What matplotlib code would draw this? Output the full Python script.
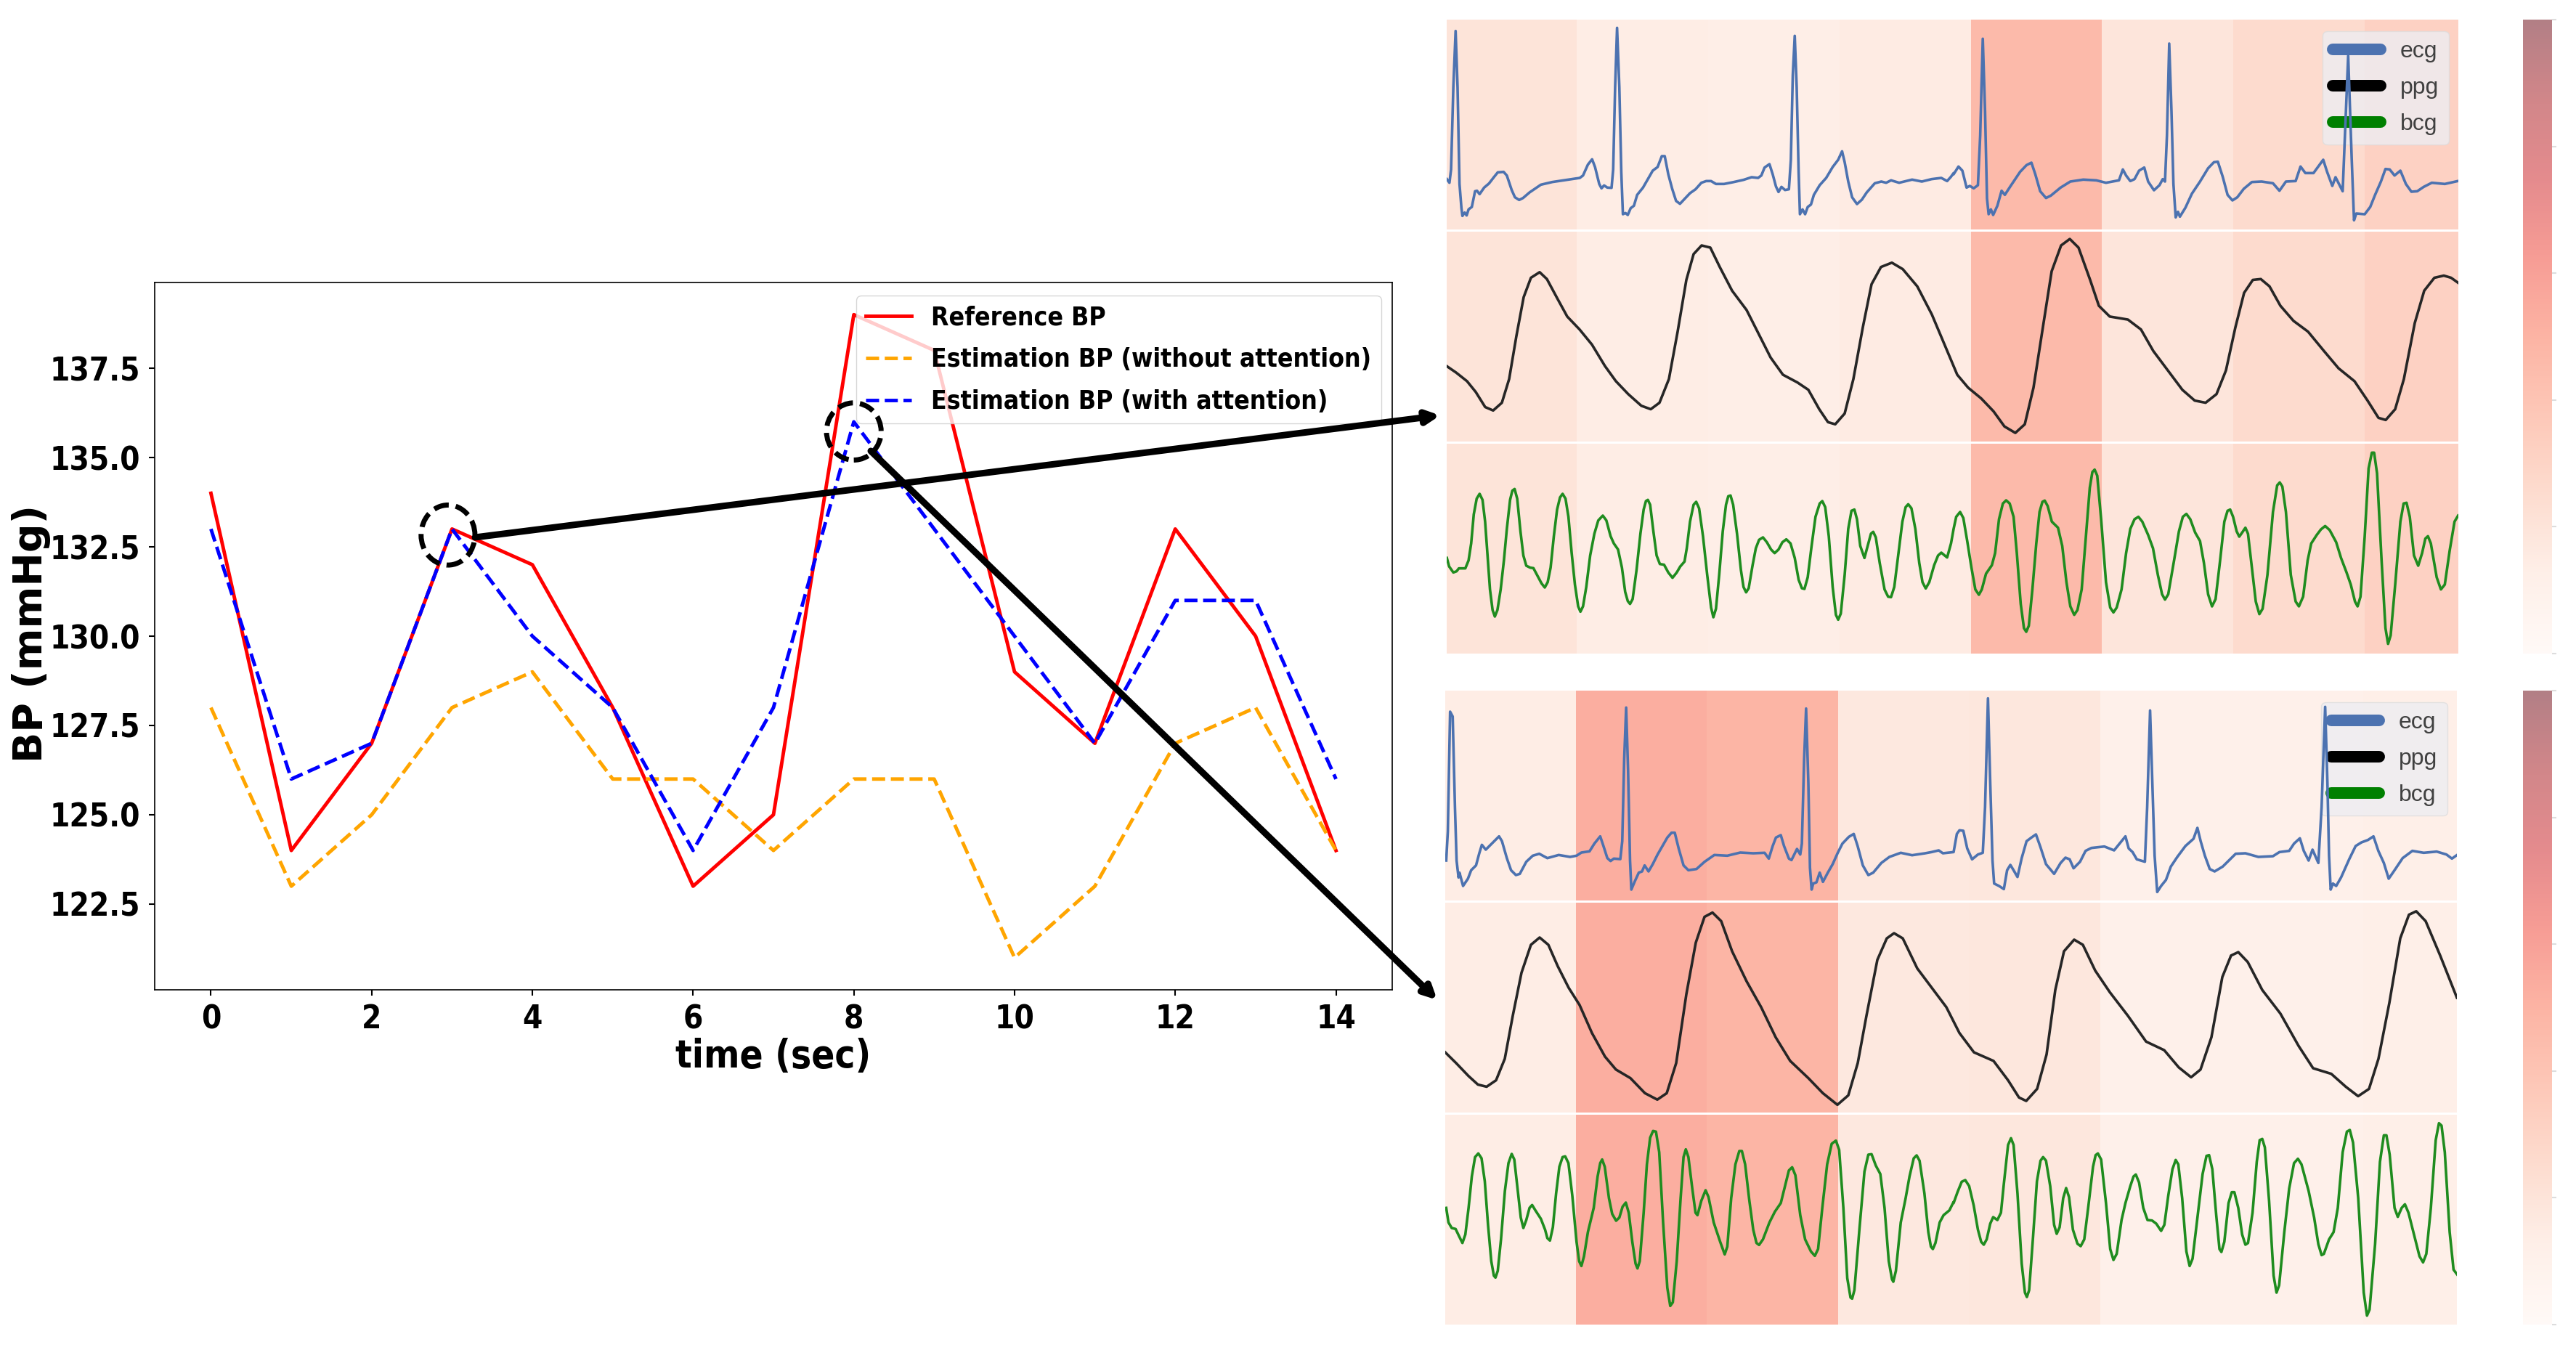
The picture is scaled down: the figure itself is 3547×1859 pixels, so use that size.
""" BP estimation chart with attention maps """
import numpy as np
import matplotlib
matplotlib.use('Agg')
import matplotlib.pyplot as plt
from matplotlib.cm import ScalarMappable
from matplotlib.colors import Normalize
from matplotlib.legend_handler import HandlerLine2D
from matplotlib.lines import Line2D
from matplotlib.patches import Ellipse

W, H = 3548, 1859

time_sec = list(range(15))
reference_bp = [134, 124, 127, 133, 132, 128, 123, 125, 139, 138, 129, 127, 133, 130, 124]
without_attention = [128, 123, 125, 128, 129, 126, 126, 124, 126, 126, 121, 123, 127, 128, 124]
with_attention = [133, 126, 127, 133, 130, 128, 124, 128, 136, 133, 130, 127, 131, 131, 126]

# attention weight per block
attn_top = [0.20, 0.14, 0.13, 0.15, 0.46, 0.19, 0.26, 0.32]
attn_bottom = [0.14, 0.53, 0.49, 0.17, 0.18, 0.11, 0.11, 0.125]
edges_top = [1992, 2171, 2352, 2533, 2714, 2894, 3075, 3256, 3385]
edges_bottom = [1990, 2170, 2350, 2531, 2711, 2892, 3073, 3254, 3383]

# traces: (sample, level)
ecg_top_a = [(5,680),(13,695),(18,640),(25,300),(32,68),(38,300),(44,700),(50,800),(53,832),(60,818),(66,830),(72,805),(82,795),(92,730),(98,728),(106,742),(120,715),(135,698),(150,672),(162,652),(180,650),(190,665),(205,725),(215,755),(228,766),(240,758),(260,735),(285,712),(295,703),(330,692),(370,684),(415,675),(425,665),(440,620),(453,598),(462,630),(475,700),(482,718),(490,706),(500,715),(513,716),(518,640),(524,300),(530,55),(537,300),(543,650),(548,825),(556,820),(563,828),(572,800),(582,790),(592,745),(610,715),(625,680),(640,645),(655,630),(668,585),(677,585),(688,660),(700,720),(712,770),(724,782),(738,762),(755,738),(772,722),(790,695),(805,688),(820,688),(835,700),(860,700),(890,692),(920,683),(945,672),(965,675),(975,665),(985,632),(1000,618),(1010,660),(1020,710),(1028,733),(1037,712),(1048,725),(1060,722),(1066,600),(1072,250),(1078,88),(1084,300),(1090,650),(1094,825),(1102,805),(1110,825),(1118,795),(1128,785),(1137,745),(1155,705),(1175,675),(1195,630),(1212,600),(1224,565),(1232,610),(1243,690),(1255,755),(1270,783),(1285,765),(1300,735),(1325,697),(1345,690),(1360,695),(1375,685),(1400,695),(1440,682),(1470,690),(1500,680),(1530,675),(1548,688),(1560,670),(1568,655)]
ecg_top_b = [(0,660),(15,628),(27,645),(40,715),(50,708),(62,718),(75,705),(82,500),(90,100),(97,400),(103,760),(108,825),(115,805),(122,828),(135,790),(148,728),(158,745),(175,710),(190,680),(205,650),(225,622),(240,612),(252,660),(267,730),(285,758),(300,748),(330,715),(360,690),(400,682),(440,685),(470,695),(510,685),(522,640),(532,665),(545,688),(558,680),(572,645),(588,632),(600,690),(618,726),(635,705),(645,680),(652,690),(658,500),(665,120),(672,400),(678,700),(685,838),(692,815),(698,835),(715,798),(735,740),(760,690),(785,635),(803,610),(815,608),(830,670),(845,745),(860,768),(875,755),(895,720),(920,692),(950,690),(985,697),(1005,728),(1025,690),(1055,688),(1070,628),(1085,655),(1110,655),(1140,600),(1152,650),(1168,708),(1178,672),(1200,730),(1207,500),(1217,170),(1228,600),(1235,850),(1242,822),(1268,825),(1285,795),(1300,745),(1318,690),(1332,638),(1345,640),(1360,665),(1378,645),(1395,700),(1412,732),(1430,730),(1450,712),(1475,695),(1515,700),(1555,688)]
ppg_top = [(12,850),(25,865),(40,885),(52,910),(65,945),(76,953),(88,935),(98,880),(108,780),(118,690),(128,645),(140,632),(150,648),(165,695),(178,735),(195,765),(212,800),(230,850),(245,885),(262,915),(280,942),(293,950),(305,935),(318,880),(330,770),(342,650),(352,590),(363,570),(375,575),(388,620),(405,675),(425,720),(440,770),(458,830),(475,870),(495,888),(510,905),(525,950),(537,980),(547,985),(560,960),(572,880),(585,760),(597,660),(610,620),(625,610),(640,625),(660,665),(680,730),(700,810),(715,870),(730,900),(748,925),(765,955),(780,990),(795,1005),(808,985),(820,900),(832,770),(845,630),(858,570),(870,555),(882,575),(898,650),(910,710),(925,735),(950,742),(968,765),(985,815),(1005,860),(1025,905),(1042,930),(1057,935),(1072,915),(1085,860),(1098,760),(1110,680),(1122,650),(1133,648),(1145,665),(1160,710),(1178,745),(1198,770),(1220,815),(1240,855),(1262,885),(1280,930),(1295,970),(1305,975),(1318,950),(1330,880),(1345,750),(1358,675),(1372,645),(1385,640),(1395,645),(1405,657)]
bcg_top_a = [(5,490),(12,525),(25,550),(35,545),(42,533),(62,533),(72,500),(80,430),(88,310),(97,245),(106,225),(115,250),(123,340),(130,470),(138,620),(146,705),(153,732),(161,705),(171,620),(181,500),(190,370),(200,250),(207,212),(214,205),(222,245),(232,380),(241,480),(250,522),(262,530),(272,532),(285,565),(297,595),(307,612),(316,590),(325,530),(335,400),(345,290),(354,240),(362,225),(371,245),(380,320),(390,470),(400,600),(410,690),(417,712),(425,690),(435,610),(447,480),(460,390),(472,335),(486,315),(497,335),(510,400),(520,430),(533,455),(545,530),(555,630),(563,668),(570,680),(578,660),(590,540),(602,390),(612,290),(619,255),(625,250),(632,270),(642,380),(652,480),(662,515),(675,518),(688,550),(701,572),(714,550),(725,525),(738,505),(745,450),(755,340),(766,270),(774,258),(783,285),(795,400),(808,560),(820,695),(827,735),(835,700),(845,560),(856,380),(866,270),(873,235),(880,232),(888,270),(900,390),(912,540),(920,610),(928,632),(936,615),(948,520),(958,450),(968,415),(980,405),(992,425),(1005,455),(1016,470),(1028,455),(1040,425),(1052,413),(1065,430),(1078,490),(1090,580),(1100,615),(1108,618),(1118,570),(1130,440),(1142,320),(1155,265),(1163,255),(1172,280),(1183,400),(1195,610),(1205,725),(1212,745),(1220,720),(1232,560),(1243,370),(1253,295),(1262,290),(1270,330),(1280,440),(1293,490),(1303,440),(1313,390),(1320,382),(1328,405),(1340,510),(1355,620),(1366,650),(1375,652),(1385,610),(1398,470),(1410,340),(1420,280),(1428,268),(1438,285),(1450,370),(1462,510),(1472,590),(1482,616),(1493,590),(1508,520),(1520,480),(1530,468),(1548,488),(1560,430),(1568,370)]
bcg_top_b = [(0,370),(8,320),(20,300),(30,325),(42,420),(55,530),(67,620),(78,642),(87,620),(100,555),(118,520),(128,470),(140,330),(152,265),(162,252),(173,265),(185,320),(195,470),(207,680),(217,780),(224,795),(232,770),(243,620),(255,430),(265,300),(274,258),(281,253),(290,275),(303,340),(322,365),(335,440),(348,590),(360,690),(372,725),(382,705),(395,620),(408,400),(420,200),(428,135),(435,125),(443,150),(455,330),(470,590),(483,695),(493,715),(503,695),(518,620),(532,470),(545,370),(558,330),(570,320),(582,340),(600,395),(615,450),(630,560),(643,640),(652,662),(662,640),(680,500),(695,380),(707,320),(718,308),(730,330),(745,385),(760,420),(772,510),(785,640),(797,690),(808,660),(822,500),(835,340),(845,295),(853,290),(862,320),(873,380),(881,402),(890,385),(900,365),(908,390),(920,530),(932,670),(943,722),(953,700),(968,560),(985,300),(998,190),(1006,178),(1014,195),(1025,300),(1040,560),(1055,670),(1065,690),(1078,650),(1092,500),(1103,430),(1120,395),(1133,372),(1146,358),(1160,375),(1180,425),(1195,490),(1212,550),(1225,600),(1238,670),(1246,690),(1255,650),(1268,400),(1280,120),(1290,55),(1297,55),(1306,140),(1320,500),(1332,780),(1340,845),(1348,810),(1362,600),(1378,340),(1388,265),(1397,262),(1407,320),(1420,480),(1433,522),(1445,470),(1455,410),(1463,400),(1472,430),(1490,570),(1503,620),(1515,600),(1530,460),(1545,340),(1556,315)]
ecg_bottom_a = [(3,720),(8,600),(15,105),(23,125),(30,500),(35,720),(41,790),(44,770),(48,790),(55,825),(70,795),(80,760),(95,740),(105,690),(113,655),(125,675),(140,655),(155,635),(166,620),(175,640),(190,710),(203,760),(218,780),(230,775),(250,725),(270,700),(290,692),(315,710),(350,697),(385,705),(405,700),(420,687),(445,682),(460,650),(478,620),(488,660),(500,710),(510,722),(520,712),(540,714),(546,640),(552,300),(558,88),(564,350),(570,720),(574,840),(585,805),(597,770),(607,765),(615,740),(627,765),(640,735),(655,695),(670,660),(685,625),(698,605),(708,605),(720,670),(735,740),(750,760),(775,755),(800,725),(830,697),(870,700),(910,687),(950,690),(985,688),(998,712),(1010,660),(1020,625),(1035,615),(1045,660),(1060,712),(1068,718),(1085,672),(1095,695),(1100,650),(1107,300),(1113,92),(1120,400),(1125,750),(1130,840),(1135,815),(1145,810),(1155,770),(1165,808),(1180,770),(1195,735),(1210,690),(1225,650),(1245,622),(1260,610),(1272,660),(1288,740),(1305,780),(1320,770),(1345,730),(1370,705),(1405,688),(1440,698),(1480,690),(1500,685),(1522,678),(1535,690),(1568,685)]
ecg_bottom_b = [(0,685),(10,610),(18,595),(30,597),(42,670),(57,715),(75,695),(90,688),(97,500),(106,50),(113,400),(120,720),(125,815),(140,825),(155,838),(165,760),(175,738),(185,760),(197,788),(210,710),(225,640),(240,625),(254,612),(268,665),(285,735),(310,775),(330,730),(345,708),(358,715),(370,752),(390,725),(407,680),(425,668),(465,662),(495,678),(512,650),(530,620),(540,670),(552,685),(565,715),(590,725),(597,500),(606,100),(613,400),(620,700),(628,850),(640,825),(655,800),(670,745),(690,705),(715,660),(740,630),(752,585),(762,640),(775,700),(790,755),(805,765),(830,745),(870,692),(900,690),(940,705),(985,702),(1005,685),(1035,680),(1050,650),(1068,628),(1080,680),(1095,720),(1107,675),(1125,730),(1135,500),(1146,85),(1153,400),(1158,700),(1163,840),(1170,815),(1180,825),(1195,790),(1220,715),(1240,660),(1258,645),(1278,635),(1295,620),(1310,680),(1327,730),(1342,795),(1360,760),(1385,710),(1415,680),(1450,688),(1490,683),(1520,695),(1537,712),(1555,695)]
ppg_bottom = [(10,875),(25,900),(42,930),(55,950),(67,955),(80,940),(92,890),(103,790),(115,690),(128,625),(140,608),(152,625),(165,675),(180,725),(195,765),(212,830),(230,885),(245,915),(265,935),(285,970),(302,985),(315,970),(328,900),(342,740),(355,620),(367,560),(378,550),(390,570),(405,640),(425,710),(445,770),(465,840),(485,895),(510,935),(530,970),(550,997),(565,975),(578,900),(590,790),(605,660),(618,610),(628,598),(640,610),(660,680),(680,725),(700,770),(718,830),(738,875),(765,895),(785,940),(800,980),(810,988),(825,960),(838,880),(850,730),(862,640),(876,613),(888,625),(905,685),(925,735),(950,790),(975,850),(1000,870),(1020,910),(1037,933),(1050,915),(1065,840),(1080,700),(1092,650),(1102,642),(1115,665),(1135,730),(1160,785),(1185,860),(1205,912),(1230,925),(1250,955),(1267,977),(1282,960),(1295,890),(1310,760),(1325,610),(1337,555),(1347,547),(1360,570),(1380,650),(1403,748)]
bcg_bottom_a = [(3,400),(10,460),(20,483),(32,487),(42,515),(53,545),(62,510),(72,400),(82,270),(92,190),(102,175),(112,195),(122,290),(132,470),(142,620),(150,680),(155,688),(162,660),(172,530),(184,330),(195,215),(205,177),(213,200),(223,320),(233,440),(241,483),(250,450),(260,400),(268,388),(278,410),(295,445),(308,490),(315,525),(323,535),(332,480),(342,340),(352,230),(362,190),(370,187),(380,215),(392,350),(405,540),(413,620),(420,640),(428,600),(440,500),(458,400),(470,270),(478,215),(484,200),(492,230),(505,360),(515,425),(527,453),(537,440),(547,395),(557,378),(566,420),(577,540),(587,630),(593,650),(600,620),(612,420),(622,220),(632,110),(641,82),(650,85),(660,170),(672,460),(685,730),(694,805),(702,790),(714,620),(726,360),(735,190),(742,158),(750,190),(762,320),(772,420),(778,430),(790,370),(803,327),(812,355),(828,460),(848,540),(862,592),(870,560),(882,360),(895,220),(907,165),(915,165),(925,220),(938,370),(950,490),(960,545),(968,553),(980,530),(1000,460),(1017,415),(1035,380),(1048,310),(1060,245),(1070,232),(1080,265),(1095,430),(1110,530),(1128,580),(1140,598),(1150,570),(1163,400),(1178,220),(1192,135),(1205,122),(1215,160),(1228,400),(1240,690),(1250,770),(1255,775),(1262,740),(1278,480),(1293,250),(1305,180),(1315,178),(1328,225),(1342,260),(1355,400),(1368,620),(1378,695),(1382,705),(1390,660),(1405,460),(1420,360),(1432,270),(1445,195),(1454,183),(1463,205),(1478,340),(1490,500),(1498,560),(1504,570),(1512,545),(1525,460),(1537,430),(1555,410),(1568,375)]
bcg_bottom_b = [(0,380),(12,335),(25,292),(36,285),(48,310),(62,390),(75,490),(85,540),(93,552),(102,530),(113,465),(122,438),(135,450),(146,420),(155,300),(168,140),(177,112),(185,140),(197,340),(210,630),(220,750),(226,768),(233,740),(245,520),(257,290),(268,205),(276,190),(285,205),(298,310),(310,470),(318,507),(327,480),(338,360),(347,318),(356,355),(368,490),(382,548),(392,558),(403,530),(415,400),(430,230),(438,182),(445,175),(455,200),(470,380),(483,570),(493,615),(503,590),(518,450),(530,380),(545,310),(555,270),(562,262),(572,295),(585,400),(598,450),(612,452),(625,465),(640,495),(650,470),(662,350),(675,240),(685,202),(693,220),(705,360),(718,580),(728,640),(737,610),(752,440),(768,260),(780,185),(788,182),(798,240),(810,430),(820,570),(826,582),(835,540),(848,380),(858,335),(866,335),(878,400),(890,510),(900,552),(908,545),(922,420),(935,210),(944,120),(952,115),(960,150),(973,370),(987,680),(996,750),(1004,720),(1020,500),(1035,320),(1050,215),(1062,197),(1073,220),(1095,330),(1112,440),(1125,550),(1135,595),(1142,590),(1158,530),(1172,500),(1185,400),(1200,170),(1213,85),(1222,78),(1232,130),(1248,360),(1265,750),(1275,845),(1283,820),(1300,550),(1315,210),(1327,100),(1335,100),(1345,180),(1360,400),(1370,437),(1382,400),(1392,385),(1403,420),(1420,510),(1437,600),(1448,625),(1458,590),(1472,400),(1487,120),(1497,50),(1505,60),(1515,170),(1530,500),(1542,655),(1553,675)]


def box(left, top, right, bottom):
    """ pixel box to figure fractions """
    return [left / W, 1 - bottom / H, (right - left) / W, (bottom - top) / H]


def join_halves(first, second, start):
    """ two crops of one trace -> one time axis """
    a, b = np.array(first, float), np.array(second, float)
    t = np.concatenate([start + a[:, 0] / 2.24, start + 700 + b[:, 0] / 2.24])
    return t, np.concatenate([a[:, 1], b[:, 1]])


def signal_row(fig, rect, edges, attn, t, y, ylim, color, lw):
    """ one trace on top of its attention blocks """
    ax = fig.add_axes(box(*rect))
    ax.pcolormesh(edges, [0, 1], [attn], cmap='Reds', vmin=0, vmax=1, alpha=0.5,
                  transform=ax.get_xaxis_transform(), edgecolors='none')
    ax.plot(t, y, color=color, lw=lw, zorder=3, solid_joinstyle='round')
    ax.set_xlim(edges[0], edges[-1])
    ax.set_ylim(*ylim)
    ax.axis('off')
    return ax


def panel(fig, top, edges, attn, ecg, ppg, bcg, ylims):
    """ ecg/ppg/bcg stack, legend and colorbar """
    left, right = edges[0], edges[-1]
    ax_e = signal_row(fig, (left, top, right, top + 289), edges, attn, ecg[0], ecg[1], ylims[0], '#4C72B0', 2.6)
    ppg_arr = np.array(ppg, float)
    signal_row(fig, (left, top + 292, right, top + 581), edges, attn, 1980 + ppg_arr[:, 0], ppg_arr[:, 1], ylims[1], '#262626', 2.6)
    signal_row(fig, (left, top + 584, right, top + 873), edges, attn, bcg[0], bcg[1], ylims[2], '#1f8c1f', 2.6)

    handles = [Line2D([], [], color=c, lw=11.5, solid_capstyle='round')
               for c in ('#4C72B0', 'black', 'green')]
    leg = ax_e.legend(handles, ['ecg', 'ppg', 'bcg'], loc='upper right',
                      bbox_to_anchor=(0.9905, 0.945), borderaxespad=0,
                      handler_map={Line2D: HandlerLine2D(marker_pad=0)},
                      prop={'family': 'Liberation Sans', 'size': 23},
                      labelcolor='#404040', handlelength=2.07, handletextpad=0.85,
                      labelspacing=0.62, borderpad=0.42, framealpha=0.8,
                      facecolor='#ededf2', edgecolor='#dddddd', fancybox=True)
    leg.set_zorder(2)

    cax = fig.add_axes(box(3474, top, 3514, top + 873))
    cb = fig.colorbar(ScalarMappable(Normalize(0, 1), 'Reds'), cax=cax, alpha=0.5)
    cb.set_ticks([0, 0.2, 0.4, 0.6, 0.8, 1.0])
    cb.ax.tick_params(length=4, width=1.5, color='#dddddd', labelright=False)
    cb.outline.set_visible(False)


fig = plt.figure(figsize=(W / 100, H / 100), dpi=100)

# main chart
font_kw = {'family': 'DejaVu Sans', 'weight': 'bold', 'stretch': 'condensed'}
ax = fig.add_axes(box(213, 389, 1917, 1363))
ax.plot(time_sec, reference_bp, color='red', lw=3.5, label='Reference BP')
ax.plot(time_sec, without_attention, color='orange', lw=3.5, ls='--', label='Estimation BP (without attention)')
ax.plot(time_sec, with_attention, color='blue', lw=3.5, ls='--', label='Estimation BP (with attention)')
ax.set_xticks(range(0, 15, 2))
ax.tick_params(length=6, width=1.5, pad=8)
for tick in ax.get_xticklabels() + ax.get_yticklabels():
    tick.set(fontsize=31.5, **font_kw)
for s in ax.spines.values():
    s.set_linewidth(1.2)
fig.text(1065 / W, 1 - 1455 / H, 'time (sec)', fontsize=38, ha='center', va='center', **font_kw)
fig.text(43 / W, 1 - 872 / H, 'BP (mmHg)', fontsize=40, fontweight='bold', rotation=90, ha='center', va='center')
ax.legend(loc='upper right', bbox_to_anchor=(0.991, 0.9815), borderaxespad=0,
          handler_map={Line2D: HandlerLine2D(marker_pad=0)},
          prop={'family': 'DejaVu Sans', 'weight': 'bold', 'stretch': 'condensed', 'size': 25.5},
          handlelength=1.78, handletextpad=0.76, labelspacing=0.67, borderpad=0.38)
for center, size in (((2.95, 132.83), (0.67, 1.68)), ((8.0, 135.73), (0.68, 1.6))):
    ax.add_patch(Ellipse(center, size[0], size[1], fill=False, ec='black', lw=5, ls=(0, (3, 1.4)), zorder=6))

# attention panels
panel(fig, 27, edges_top, attn_top,
      join_halves(ecg_top_a, ecg_top_b, 1990),
      ppg_top,
      join_halves(bcg_top_a, bcg_top_b, 1990),
      [(888, 21), (1025, 538), (885, 18)])
panel(fig, 951, edges_bottom, attn_bottom,
      join_halves(ecg_bottom_a, ecg_bottom_b, 1990),
      ppg_bottom,
      join_halves(bcg_bottom_a, bcg_bottom_b, 1990),
      [(885, 18), (1015, 527), (882, 15)])

# arrows on top of everything
over = fig.add_axes([0, 0, 1, 1], facecolor='none')
over.set_xlim(0, W)
over.set_ylim(H, 0)
over.axis('off')
for start, end in (((654, 740), (1983, 572)), ((1199, 621), (1979, 1377))):
    over.annotate('', xy=end, xytext=start,
                  arrowprops=dict(arrowstyle='-|>', lw=6.5, color='black',
                                  mutation_scale=26, shrinkA=0, shrinkB=0))

fig.savefig('out.png', dpi=100)
